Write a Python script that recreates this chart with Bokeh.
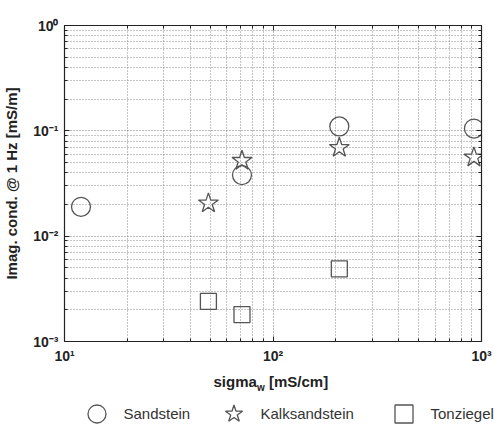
from bokeh.plotting import figure
from bokeh.layouts import column
from bokeh.models import (LogAxis, FixedTicker, Legend, LegendItem, Label,
                          CustomJSTickFormatter, Range1d)
from bokeh.embed import file_html
from bokeh.resources import INLINE

# Water conductivity sigma_w [mS/cm] and imaginary conductivity at 1 Hz [mS/m]
sand_x = [12, 71, 208, 920]
sand_y = [0.019, 0.038, 0.11, 0.105]

kalk_x = [49, 71, 208, 920]
kalk_y = [0.0205, 0.052, 0.069, 0.056]

ton_x = [49, 71, 208]
ton_y = [0.0024, 0.0018, 0.0049]

series_names = ["Sandstein", "Kalksandstein", "Tonziegel"]

# decade ticks and the 2..9 minor ticks in between
x_major = [10, 100, 1000]
y_major = [0.001, 0.01, 0.1, 1]


def minors(majors):
    out = []
    for m in majors[:-1]:
        out += [m * k for k in range(2, 10)]
    return out


FONT = "Liberation Sans"
MARK = "#555555"
INK = "#222222"
W = 494

# ---- main log-log panel -------------------------------------------------
p = figure(width=W, height=366, x_axis_type="log", y_axis_type="log",
           x_range=Range1d(10, 1000), y_range=Range1d(1e-3, 1),
           output_backend="svg", toolbar_location=None,
           min_border_left=64, min_border_right=13,
           min_border_top=25, min_border_bottom=25)
p.background_fill_color = "white"
p.border_fill_color = "white"
p.outline_line_color = INK
p.outline_line_width = 1.2

x_ticker = FixedTicker(ticks=x_major, minor_ticks=minors(x_major))
y_ticker = FixedTicker(ticks=y_major, minor_ticks=minors(y_major))

pow_fmt = CustomJSTickFormatter(code="""
const sup = {"-": "\u207b", "0": "\u2070", "1": "\u00b9", "2": "\u00b2", "3": "\u00b3",
             "4": "\u2074", "5": "\u2075", "6": "\u2076", "7": "\u2077", "8": "\u2078", "9": "\u2079"};
const e = Math.round(Math.log10(tick));
return "10" + String(e).split("").map(c => sup[c]).join("");
""")
blank_fmt = CustomJSTickFormatter(code="return '';")

p.xaxis[0].ticker = x_ticker
p.yaxis[0].ticker = y_ticker
p.xgrid[0].ticker = x_ticker
p.ygrid[0].ticker = y_ticker

for ax in (p.xaxis[0], p.yaxis[0]):
    ax.formatter = pow_fmt
    ax.major_label_text_font = FONT
    ax.major_label_text_font_style = "bold"
    ax.major_label_text_font_size = "14px"
    ax.major_label_text_color = INK
    ax.axis_line_color = INK
    ax.major_tick_in = 5
    ax.major_tick_out = 0
    ax.minor_tick_in = 3
    ax.minor_tick_out = 0
    ax.major_tick_line_color = INK
    ax.minor_tick_line_color = INK

p.xaxis[0].major_label_standoff = 6
p.yaxis[0].major_label_standoff = 6

p.yaxis[0].axis_label = "Imag. cond. @ 1 Hz [mS/m]"
p.yaxis[0].axis_label_text_font = FONT
p.yaxis[0].axis_label_text_font_style = "bold"
p.yaxis[0].axis_label_text_font_size = "15px"
p.yaxis[0].axis_label_text_color = INK
p.yaxis[0].axis_label_standoff = 10

# mirrored tick marks on the top and right edges
for side, tk in (("above", x_ticker), ("right", y_ticker)):
    ax = LogAxis(ticker=tk, formatter=blank_fmt,
                 major_tick_in=5, major_tick_out=0, minor_tick_in=3, minor_tick_out=0,
                 major_tick_line_color=INK, minor_tick_line_color=INK,
                 axis_line_color=INK, major_label_standoff=0)
    p.add_layout(ax, side)

for g in (p.xgrid[0], p.ygrid[0]):
    g.grid_line_color = "#777777"
    g.grid_line_dash = "1 2"
    g.grid_line_width = 1
    g.minor_grid_line_color = "#8a8a8a"
    g.minor_grid_line_dash = "1 2"
    g.minor_grid_line_width = 1

style = dict(fill_color=None, line_color=MARK, line_width=1.3)
p.scatter(sand_x, sand_y, marker="circle", size=19, **style)
p.scatter(kalk_x, kalk_y, marker="star", size=21, **style)
p.scatter(ton_x, ton_y, marker="square", size=16, **style)

# ---- strip underneath: x-axis title and legend ---------------------------
q = figure(width=W, height=59, x_range=Range1d(0, 1), y_range=Range1d(0, 1),
           output_backend="svg", toolbar_location=None,
           x_axis_location=None, y_axis_location=None,
           min_border=0, min_border_left=0, min_border_right=0,
           min_border_top=0, min_border_bottom=0)
q.grid.visible = False
q.outline_line_color = None
q.background_fill_color = "white"
q.border_fill_color = "white"
# let this strip use the full width instead of lining up with the plot frame
if "frame_align" in q.properties():
    q.frame_align = False

# the series again, lying outside this strip's ranges, only to feed the legend
leg_sand = q.scatter(sand_x, sand_y, marker="circle", **style)
leg_kalk = q.scatter(kalk_x, kalk_y, marker="star", **style)
leg_ton = q.scatter(ton_x, ton_y, marker="square", **style)

lab_kw = dict(x_units="screen", y_units="screen", text_font=FONT,
              text_font_style="bold", text_color=INK, text_baseline="alphabetic")
q.add_layout(Label(x=213, y=44, text="sigma", text_font_size="15px", **lab_kw))
q.add_layout(Label(x=256.5, y=38, text="w", text_font_size="10px", **lab_kw))
q.add_layout(Label(x=268.5, y=44, text="[mS/cm]", text_font_size="15px", **lab_kw))

legend_x = [73.5, 210.5, 380.5]
for name, r, lx in zip(series_names, (leg_sand, leg_kalk, leg_ton), legend_x):
    lg = Legend(items=[LegendItem(label=name, renderers=[r])],
                location=(lx, -10.5), orientation="horizontal",
                glyph_width=45, glyph_height=45, label_standoff=5,
                padding=0, margin=0, border_line_color=None,
                background_fill_alpha=0, label_text_font=FONT,
                label_text_font_size="15px", label_text_color="#333333")
    q.add_layout(lg, "center")

page = column(p, q, spacing=0)

with open("out.html", "w", encoding="utf-8") as f:
    f.write(file_html(page, INLINE))
